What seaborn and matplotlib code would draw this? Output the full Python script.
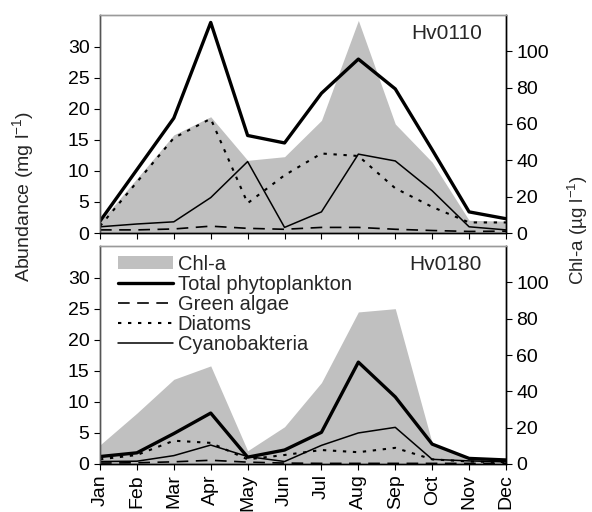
import matplotlib
matplotlib.use("Agg")
import matplotlib.pyplot as plt
from matplotlib.patches import Patch
from matplotlib.lines import Line2D
import numpy as np
import seaborn as sns

sns.set_style("ticks")
plt.rcParams["font.family"] = ["Liberation Sans", "DejaVu Sans"]
plt.rcParams["mathtext.fontset"] = "custom"
plt.rcParams["mathtext.rm"] = "Liberation Sans"
plt.rcParams["mathtext.default"] = "regular"

months = ["Jan", "Feb", "Mar", "Apr", "May", "Jun",
          "Jul", "Aug", "Sep", "Oct", "Nov", "Dec"]

# Station Hv0110
chl_110 = [6, 30, 54, 64, 40, 42, 62, 117, 60, 39, 7, 6.5]
total_110 = [1.9, 10.2, 18.5, 33.9, 15.7, 14.5, 22.5, 28.0, 23.2, 13.4, 3.4, 2.3]
green_110 = [0.5, 0.5, 0.65, 1.1, 0.75, 0.6, 0.9, 0.9, 0.6, 0.4, 0.25, 0.3]
diatoms_110 = [1.1, 8.2, 15.3, 18.4, 4.8, 9.3, 12.8, 12.4, 7.2, 4.2, 1.7, 1.7]
cyano_110 = [1.0, 1.45, 1.8, 5.7, 11.5, 0.9, 3.4, 12.7, 11.6, 6.8, 1.0, 0.5]

# Station Hv0180
chl_180 = [10.5, 28, 46.6, 54, 7.3, 20.5, 44.8, 83.7, 85.5, 11.5, 3, 2]
total_180 = [1.2, 1.8, 4.9, 8.2, 1.1, 2.25, 5.1, 16.4, 10.8, 3.2, 0.9, 0.65]
green_180 = [0.15, 0.2, 0.35, 0.6, 0.3, 0.15, 0.1, 0.1, 0.1, 0.1, 0.1, 0.1]
diatoms_180 = [0.75, 1.45, 3.75, 3.4, 0.75, 1.45, 2.25, 1.9, 2.6, 0.75, 0.4, 0.3]
cyano_180 = [0.4, 0.45, 1.35, 3.05, 1.2, 0.4, 3.0, 5.0, 5.9, 0.75, 0.5, 0.35]

FS = 14
GRAY = "#c0c0c0"
x = np.arange(len(months))

styles = {
    "total": dict(lw=2.4, linestyle="-"),
    "green": dict(lw=1.2, linestyle=(0, (7, 4.5))),
    "diatoms": dict(lw=1.5, linestyle=(0, (1.6, 3.2))),
    "cyano": dict(lw=1.1, linestyle="-"),
}

fig = plt.figure(figsize=(5.92, 5.12), dpi=100)
W, H = 592, 512
left, right = 100 / W, 506 / W
panels = [
    (fig.add_axes([left, 1 - 233 / H, right - left, 218 / H]), "Hv0110",
     chl_110, total_110, green_110, diatoms_110, cyano_110),
    (fig.add_axes([left, 1 - 464 / H, right - left, 218 / H]), "Hv0180",
     chl_180, total_180, green_180, diatoms_180, cyano_180),
]

for i, (ax, name, chl, total, green, diat, cyano) in enumerate(panels):
    ax2 = ax.twinx()
    ax2.fill_between(x, chl, 0, color=GRAY, lw=0)
    ax2.set_ylim(0, 120)
    ax2.set_yticks(range(0, 101, 20))
    ax.set_zorder(ax2.get_zorder() + 1)
    ax.patch.set_visible(False)

    for key, vals in (("green", green), ("diatoms", diat),
                      ("cyano", cyano), ("total", total)):
        sns.lineplot(x=x, y=vals, ax=ax, color="black", **styles[key])

    ax.set_xlim(0, 11)
    ax.set_ylim(0, 35.1)
    ax.set_yticks(range(0, 31, 5))
    ax.set_xticks(x)
    if i == 1:
        ax.set_xticklabels(months, rotation=90)
    else:
        ax.set_xticklabels([])

    for a in (ax, ax2):
        a.tick_params(labelsize=FS, length=4.5, width=0.8, pad=3, colors="black")
        for s in a.spines.values():
            s.set_linewidth(1.0)
        a.spines["top"].set_color("#9a9a9a")
        a.spines["left"].set_color("#555555")
        a.spines["right"].set_color("black")
        a.spines["bottom"].set_color("black")

    ax.text(0.94, 0.915, name, transform=ax.transAxes, ha="right",
            va="center", fontsize=15)

handles = [
    Patch(facecolor=GRAY, edgecolor="none", label="Chl-a"),
    Line2D([], [], color="black", label="Total phytoplankton", **styles["total"]),
    Line2D([], [], color="black", label="Green algae", **styles["green"]),
    Line2D([], [], color="black", label="Diatoms", **styles["diatoms"]),
    Line2D([], [], color="black", label="Cyanobakteria", **styles["cyano"]),
]
panels[1][0].legend(handles=handles, loc="upper left", bbox_to_anchor=(0.045, 0.96),
                    frameon=False, fontsize=14.5, handlelength=2.7,
                    handletextpad=0.25, labelspacing=0.05, borderpad=0,
                    borderaxespad=0, handleheight=0.65)

fig.text(23 / W, 1 - 197 / H, "Abundance (mg l$^{-1}$)", rotation=90,
         ha="center", va="center", fontsize=FS)
fig.text(578 / W, 1 - 230 / H, "Chl-a (µg l$^{-1}$)", rotation=90,
         ha="center", va="center", fontsize=13.5)

fig.savefig("out.png", dpi=100)
